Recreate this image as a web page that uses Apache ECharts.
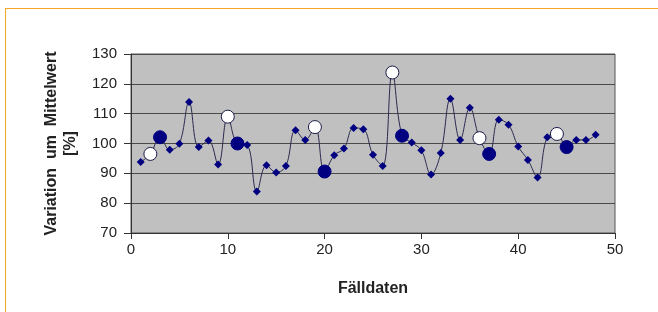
<!DOCTYPE html>
<html>
<head>
<meta charset="utf-8">
<script src="https://cdn.jsdelivr.net/npm/echarts@6/dist/echarts.min.js"></script>
<style>
  html, body { margin: 0; padding: 0; background: #fff; }
  #frame { position: absolute; left: 5px; top: 8px; width: 653px; height: 304px;
           border-top: 1px solid #f5a623; border-left: 1px solid #f5a623; }
  #main { position: absolute; left: 0; top: 0; width: 658px; height: 312px; }
</style>
</head>
<body>
<div id="frame"></div>
<div id="main"></div>
<script>
// Fall-Nummern und Abweichung in %
var faelle = [1,2,3,4,5,6,7,8,9,10,11,12,13,14,15,16,17,18,19,20,21,22,23,24,
              25,26,27,28,29,30,31,32,33,34,35,36,37,38,39,40,41,42,43,44,45,46,47,48];
var werte = [93.8, 96.5, 102.1, 97.9, 99.9, 113.9, 98.8, 101, 93, 109, 100, 99.5,
             83.9, 92.7, 90.3, 92.5, 104.4, 101.2, 105.5, 90.6, 96.1, 98.3, 105.2, 104.8,
             96.2, 92.5, 123.8, 102.6, 100.3, 97.7, 89.6, 96.8, 115, 101.2, 112, 101.8,
             96.5, 108, 106.3, 99, 94.5, 88.6, 102.1, 103.2, 98.8, 101.2, 101.2, 102.9];
// markierte Faelle
var weissePunkte = [2, 10, 19, 27, 36, 44];
var blauePunkte = [3, 11, 20, 28, 37, 45];

var xTicks = [0, 10, 20, 30, 40, 50];
var yTicks = [70, 80, 90, 100, 110, 120, 130];

var daten = [];
for (var i = 0; i < faelle.length; i++) {
    var item = { value: [faelle[i], werte[i]] };
    if (weissePunkte.indexOf(faelle[i]) >= 0) {
        item.symbol = 'circle';
        item.symbolSize = 13;
        item.itemStyle = { color: '#ffffff', borderColor: '#1a1a4a', borderWidth: 1 };
    } else if (blauePunkte.indexOf(faelle[i]) >= 0) {
        item.symbol = 'circle';
        item.symbolSize = 13;
        item.itemStyle = { color: '#000080', borderColor: '#000080' };
    }
    daten.push(item);
}

var myChart = echarts.init(document.getElementById('main'));
var option = {
    animation: false,
    textStyle: { fontFamily: 'Liberation Sans, Arial, sans-serif' },
    grid: {
        left: 131, right: 43, top: 54, bottom: 79,
        show: true,
        backgroundColor: '#c0c0c0',
        borderColor: '#555',
        borderWidth: 1
    },
    xAxis: {
        type: 'value',
        min: xTicks[0],
        max: xTicks[xTicks.length - 1],
        interval: 10,
        name: 'Fälldaten',
        nameLocation: 'middle',
        nameGap: 48,
        nameTextStyle: { fontSize: 16, fontWeight: 'bold', color: '#222' },
        axisLine: { lineStyle: { color: '#333' } },
        axisTick: { show: true, length: 6, lineStyle: { color: '#333' } },
        axisLabel: { fontSize: 15, color: '#222', margin: 9 },
        splitLine: { show: false }
    },
    yAxis: {
        type: 'value',
        min: yTicks[0],
        max: yTicks[yTicks.length - 1],
        interval: 10,
        name: 'Variation  um  Mittelwert\n[%]',
        nameLocation: 'middle',
        nameGap: 51,
        nameTextStyle: { fontSize: 16, fontWeight: 'bold', color: '#222', lineHeight: 19 },
        axisLine: { show: true, lineStyle: { color: '#333' } },
        axisTick: { show: true, length: 7, lineStyle: { color: '#333' } },
        axisLabel: { fontSize: 15, color: '#222', margin: 14 },
        splitLine: { show: true, lineStyle: { color: '#4a4a4a', width: 1 } }
    },
    series: [{
        type: 'line',
        data: daten,
        smooth: 0.4,
        symbol: 'diamond',
        symbolSize: 8,
        showAllSymbol: true,
        lineStyle: { color: '#2a2a50', width: 1 },
        itemStyle: { color: '#000080' }
    }]
};
myChart.setOption(option);
</script>
</body>
</html>
